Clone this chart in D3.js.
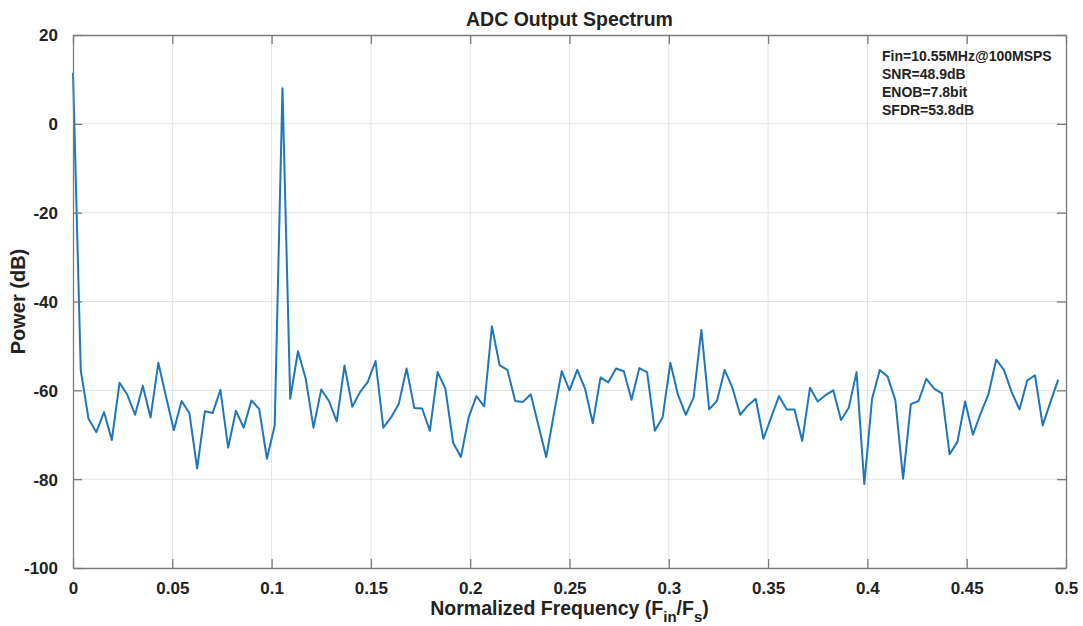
<!DOCTYPE html>
<html>
<head>
<meta charset="utf-8">
<script src="https://cdn.jsdelivr.net/npm/d3@7"></script>
<style>
    body { margin: 0; background: #fff; }
    text { font-family: 'Liberation Sans', Arial, sans-serif; font-weight: bold; fill: #222; }
</style>
</head>
<body>
<div id="chart"></div>
<script>
// FFT length used for the spectrum (bins 0..N/2-1)
const fftLength = 256;

// Power per FFT bin, dB
const powerDb = [
    11.5, -55.5, -66.4, -69.4, -64.9, -71.2, -58.3, -61.0, -65.5, -59.0,
    -66.1, -53.8, -61.5, -69.0, -62.4, -65.1, -77.6, -64.7, -65.1, -59.9,
    -72.9, -64.6, -68.4, -62.3, -64.2, -75.4, -67.9, 8.0, -61.9, -51.2,
    -57.4, -68.4, -59.8, -62.4, -67.0, -54.4, -63.7, -60.4, -58.1, -53.4,
    -68.4, -66.1, -63.0, -55.1, -64.0, -64.1, -69.1, -55.9, -59.6, -71.8,
    -75.0, -66.1, -61.3, -63.6, -45.6, -54.4, -55.4, -62.4, -62.6, -60.9,
    -67.9, -75.0, -65.2, -55.7, -60.0, -55.4, -59.6, -67.4, -57.1, -58.2,
    -55.1, -55.7, -62.1, -55.0, -55.9, -69.1, -66.1, -53.8, -61.1, -65.5,
    -61.6, -46.4, -64.3, -62.4, -55.4, -59.4, -65.5, -63.4, -61.9, -70.9,
    -66.1, -61.3, -64.3, -64.3, -71.4, -59.4, -62.5, -61.1, -60.0, -66.7,
    -63.9, -55.9, -81.1, -61.9, -55.4, -56.9, -62.2, -79.9, -63.1, -62.4,
    -57.4, -59.6, -60.7, -74.4, -71.6, -62.5, -70.0, -65.2, -60.9, -53.1,
    -55.4, -60.4, -64.3, -57.8, -56.6, -67.9, -62.6, -57.6
];

const xTicks = [0, 0.05, 0.1, 0.15, 0.2, 0.25, 0.3, 0.35, 0.4, 0.45, 0.5];
const yTicks = [-100, -80, -60, -40, -20, 0, 20];
const annotations = ['Fin=10.55MHz@100MSPS', 'SNR=48.9dB', 'ENOB=7.8bit', 'SFDR=53.8dB'];

const width = 1083;
const height = 626;
const margin = { top: 35, right: 17, bottom: 58, left: 73 };

const svg = d3.select('#chart')
    .append('svg')
    .attr('width', width)
    .attr('height', height);

const x = d3.scaleLinear().domain([0, 0.5]).range([margin.left, width - margin.right]);
const y = d3.scaleLinear().domain([-100, 20]).range([height - margin.bottom, margin.top]);

const points = powerDb.map((p, i) => ({ f: i / fftLength, p }));

// Grid
svg.append('g')
    .selectAll('line')
    .data(xTicks.slice(1, -1))
    .enter()
    .append('line')
    .attr('x1', (d) => x(d)).attr('x2', (d) => x(d))
    .attr('y1', y(-100)).attr('y2', y(20))
    .attr('stroke', '#e3e3e3');

svg.append('g')
    .selectAll('line')
    .data(yTicks.slice(1, -1))
    .enter()
    .append('line')
    .attr('x1', x(0)).attr('x2', x(0.5))
    .attr('y1', (d) => y(d)).attr('y2', (d) => y(d))
    .attr('stroke', '#e3e3e3');

// Spectrum line
const line = d3.line().x((d) => x(d.f)).y((d) => y(d.p));

svg.append('path')
    .datum(points)
    .attr('d', line)
    .attr('fill', 'none')
    .attr('stroke', '#1f77b9')
    .attr('stroke-width', 2)
    .attr('stroke-linejoin', 'round');

// Axes (ticks inside, box on all sides)
const tickLen = 9;
const axisColor = '#7a7a7a';

const axisB = svg.append('g')
    .attr('transform', `translate(0,${y(-100)})`)
    .call(d3.axisBottom(x).tickValues(xTicks).tickSizeInner(-tickLen).tickSizeOuter(0).tickPadding(14)
        .tickFormat((d) => String(d)));
const axisT = svg.append('g')
    .attr('transform', `translate(0,${y(20)})`)
    .call(d3.axisTop(x).tickValues(xTicks).tickSizeInner(-tickLen).tickSizeOuter(0).tickFormat(''));
const axisL = svg.append('g')
    .attr('transform', `translate(${x(0)},0)`)
    .call(d3.axisLeft(y).tickValues(yTicks).tickSizeInner(-tickLen).tickSizeOuter(0).tickPadding(15)
        .tickFormat((d) => String(d)));
const axisR = svg.append('g')
    .attr('transform', `translate(${x(0.5)},0)`)
    .call(d3.axisRight(y).tickValues(yTicks).tickSizeInner(-tickLen).tickSizeOuter(0).tickFormat(''));

[axisB, axisT, axisL, axisR].forEach((a) => {
    a.select('.domain').attr('stroke', axisColor).attr('stroke-width', 1.3);
    a.selectAll('.tick line').attr('stroke', axisColor).attr('stroke-width', 1.3);
});
axisB.selectAll('text').attr('font-size', '17px').attr('fill', '#222');
axisL.selectAll('text').attr('font-size', '17px').attr('fill', '#222').attr('dy', '0.35em');

// Title and axis labels
svg.append('text')
    .attr('x', (x(0) + x(0.5)) / 2)
    .attr('y', 26)
    .attr('text-anchor', 'middle')
    .attr('font-size', '19.5px')
    .text('ADC Output Spectrum');

const xLabel = svg.append('text')
    .attr('x', (x(0) + x(0.5)) / 2)
    .attr('y', 615)
    .attr('text-anchor', 'middle')
    .attr('font-size', '19.5px');
xLabel.append('tspan').text('Normalized Frequency (F');
xLabel.append('tspan').attr('dy', 7).attr('font-size', '15px').text('in');
xLabel.append('tspan').attr('dy', -7).text('/F');
xLabel.append('tspan').attr('dy', 7).attr('font-size', '15px').text('s');
xLabel.append('tspan').attr('dy', -7).text(')');

svg.append('text')
    .attr('transform', `translate(25,${(y(-100) + y(20)) / 2}) rotate(-90)`)
    .attr('text-anchor', 'middle')
    .attr('font-size', '20px')
    .text('Power (dB)');

// Annotation text
svg.append('g')
    .selectAll('text')
    .data(annotations)
    .enter()
    .append('text')
    .attr('x', 882)
    .attr('y', (d, i) => 61 + i * 18)
    .attr('font-size', '14px')
    .text((d) => d);
</script>
</body>
</html>
